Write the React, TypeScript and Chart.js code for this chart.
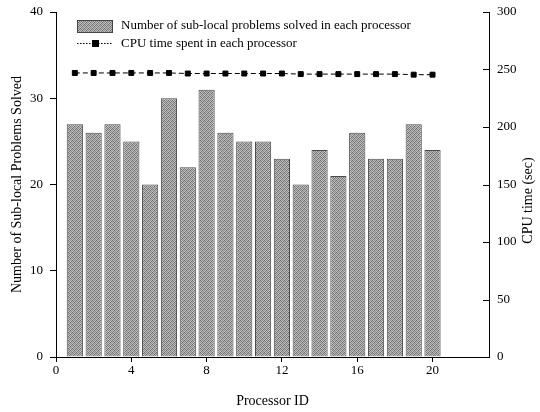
import React, { useEffect, useRef } from "react";
import { Chart, registerables } from "chart.js";

Chart.register(...registerables);

const processorIds = [1, 2, 3, 4, 5, 6, 7, 8, 9, 10, 11, 12, 13, 14, 15, 16, 17, 18, 19, 20];
const subProblems = [27, 26, 27, 25, 20, 30, 22, 31, 26, 25, 25, 23, 20, 24, 21, 26, 23, 23, 27, 24];
const cpuTime = [247, 247, 247, 247, 247, 247, 246.5, 246.5, 246.5, 246.5, 246.5, 246.5, 246, 246, 246, 246, 246, 246, 245.5, 245.5];

const xMax = 23;
const xStep = 4;
const xTickMax = 20;
const leftMax = 40;
const leftStep = 10;
const rightMax = 300;
const rightStep = 50;

const legendLabels = [
  "Number of sub-local problems solved in each processor",
  "CPU time spent in each processor",
];
const xTitle = "Processor ID";
const leftTitle = "Number of Sub-local Problems Solved";
const rightTitle = "CPU time (sec)";

const FONT = '"Liberation Serif", "Times New Roman", serif';

function makePattern(ctx: CanvasRenderingContext2D): CanvasPattern | string {
  const c = document.createElement("canvas");
  c.width = 4;
  c.height = 4;
  const p = c.getContext("2d");
  if (!p) return "#939393";
  const cells = [
    ["#6a6a6a", "#c4c4c4", "#8a8a8a", "#b8b8b8"],
    ["#b0b0b0", "#7c7c7c", "#c8c8c8", "#707070"],
    ["#8c8c8c", "#c0c0c0", "#686868", "#bebebe"],
    ["#c6c6c6", "#767676", "#b4b4b4", "#8e8e8e"],
  ];
  for (let r = 0; r < 4; r++) {
    for (let k = 0; k < 4; k++) {
      p.fillStyle = cells[r][k];
      p.fillRect(k, r, 1, 1);
    }
  }
  return ctx.createPattern(c, "repeat") || "#939393";
}

export default function App() {
  const ref = useRef<HTMLCanvasElement | null>(null);

  useEffect(() => {
    const canvas = ref.current;
    if (!canvas) return;
    const ctx2d = canvas.getContext("2d");
    if (!ctx2d) return;
    const pattern = makePattern(ctx2d);

    const customPlugin = {
      id: "customDecor",
      afterDraw(chart: any) {
        const ctx = chart.ctx as CanvasRenderingContext2D;
        const a = chart.chartArea;
        const y1 = chart.scales.y1;
        ctx.save();
        ctx.strokeStyle = "#000";
        ctx.lineWidth = 1;
        // inward ticks on right axis
        y1.ticks.forEach((t: any) => {
          const py = Math.round(y1.getPixelForValue(t.value)) + 0.5;
          ctx.beginPath();
          ctx.moveTo(a.right - 6, py);
          ctx.lineTo(a.right, py);
          ctx.stroke();
        });
        // right axis title, reading bottom-to-top
        ctx.save();
        ctx.translate(chart.width - 12, (a.top + a.bottom) / 2 + 16);
        ctx.rotate(-Math.PI / 2);
        ctx.font = "14px " + FONT;
        ctx.fillStyle = "#000";
        ctx.textAlign = "center";
        ctx.textBaseline = "middle";
        ctx.fillText(rightTitle, 0, 0);
        ctx.restore();
        // legend
        const lx = a.left + 21;
        const ly = a.top + 8;
        ctx.fillStyle = pattern as any;
        ctx.fillRect(lx, ly, 35, 12);
        ctx.strokeStyle = "#444";
        ctx.strokeRect(lx + 0.5, ly + 0.5, 35, 12);
        ctx.font = "13px " + FONT;
        ctx.fillStyle = "#000";
        ctx.textBaseline = "middle";
        ctx.textAlign = "left";
        ctx.fillText(legendLabels[0], lx + 44, ly + 6);
        const ry = ly + 23.5;
        ctx.strokeStyle = "#000";
        ctx.setLineDash([1.5, 1.5]);
        ctx.beginPath();
        ctx.moveTo(lx, ry);
        ctx.lineTo(lx + 36, ry);
        ctx.stroke();
        ctx.setLineDash([]);
        ctx.fillRect(lx + 15, ry - 3.5, 7, 7);
        ctx.fillText(legendLabels[1], lx + 44, ry);
        ctx.restore();
      },
    };

    Chart.defaults.font.family = FONT;
    Chart.defaults.color = "#000";

    const chart = new Chart(canvas, {
      type: "bar",
      data: {
        datasets: [
          {
            type: "line",
            label: legendLabels[1],
            data: processorIds.map((id, i) => ({ x: id, y: cpuTime[i] })),
            yAxisID: "y1",
            borderColor: "#000",
            borderWidth: 1,
            borderDash: [5, 3],
            backgroundColor: "#000",
            pointStyle: "rect",
            pointRadius: 3.5,
            pointBackgroundColor: "#000",
            pointBorderColor: "#000",
            order: 0,
          } as any,
          {
            type: "bar",
            label: legendLabels[0],
            data: processorIds.map((id, i) => ({ x: id, y: subProblems[i] })),
            yAxisID: "y",
            backgroundColor: pattern as any,
            borderColor: "#4a4a4a",
            borderWidth: 1,
            barPercentage: 0.86,
            categoryPercentage: 1,
            order: 1,
          } as any,
        ],
      },
      options: {
        responsive: false,
        animation: false,
        layout: { padding: { top: 12, right: 0, left: 0, bottom: 0 } },
        plugins: {
          legend: { display: false },
          tooltip: { enabled: false },
        },
        scales: {
          x: {
            type: "linear",
            offset: false,
            min: 0,
            max: xMax,
            ticks: { stepSize: xStep, font: { size: 13 }, padding: 1, color: "#000", maxRotation: 0 },
            afterBuildTicks: (s: any) => {
              s.ticks = s.ticks.filter((t: any) => t.value % xStep === 0 && t.value <= xTickMax);
            },
            grid: { display: true, offset: false, drawOnChartArea: false, drawTicks: true, tickLength: 5, color: "#000" },
            border: { display: true, color: "#000", width: 1 },
            title: { display: true, text: xTitle, font: { size: 14 }, padding: 2, color: "#000" },
            afterFit: (s: any) => {
              s.height = 55;
              s.paddingLeft = 0;
              s.paddingRight = 0;
            },
          },
          y: {
            type: "linear",
            position: "left",
            min: 0,
            max: leftMax,
            ticks: { stepSize: leftStep, font: { size: 13 }, padding: 7, color: "#000" },
            grid: { display: true, drawOnChartArea: false, drawTicks: true, tickLength: 6, color: "#000" },
            border: { display: true, color: "#000", width: 1 },
            title: { display: true, text: leftTitle, font: { size: 14 }, padding: 9, color: "#000" },
            afterFit: (s: any) => {
              s.width = 56;
              s.paddingTop = 0;
              s.paddingBottom = 0;
            },
          },
          y1: {
            type: "linear",
            position: "right",
            min: 0,
            max: rightMax,
            ticks: { stepSize: rightStep, font: { size: 13 }, padding: 8, color: "#000" },
            grid: { display: true, drawOnChartArea: false, drawTicks: false, color: "#000" },
            border: { display: true, color: "#000", width: 1 },
            title: { display: false, text: rightTitle },
            afterFit: (s: any) => {
              s.width = 51;
              s.paddingTop = 0;
              s.paddingBottom = 0;
            },
          },
        },
      },
      plugins: [customPlugin],
    });

    return () => chart.destroy();
  }, []);

  return (
    <div style={{ position: "absolute", left: 0, top: 0, width: 540, height: 412, background: "#fff" }}>
      <canvas ref={ref} width={540} height={412} />
    </div>
  );
}
